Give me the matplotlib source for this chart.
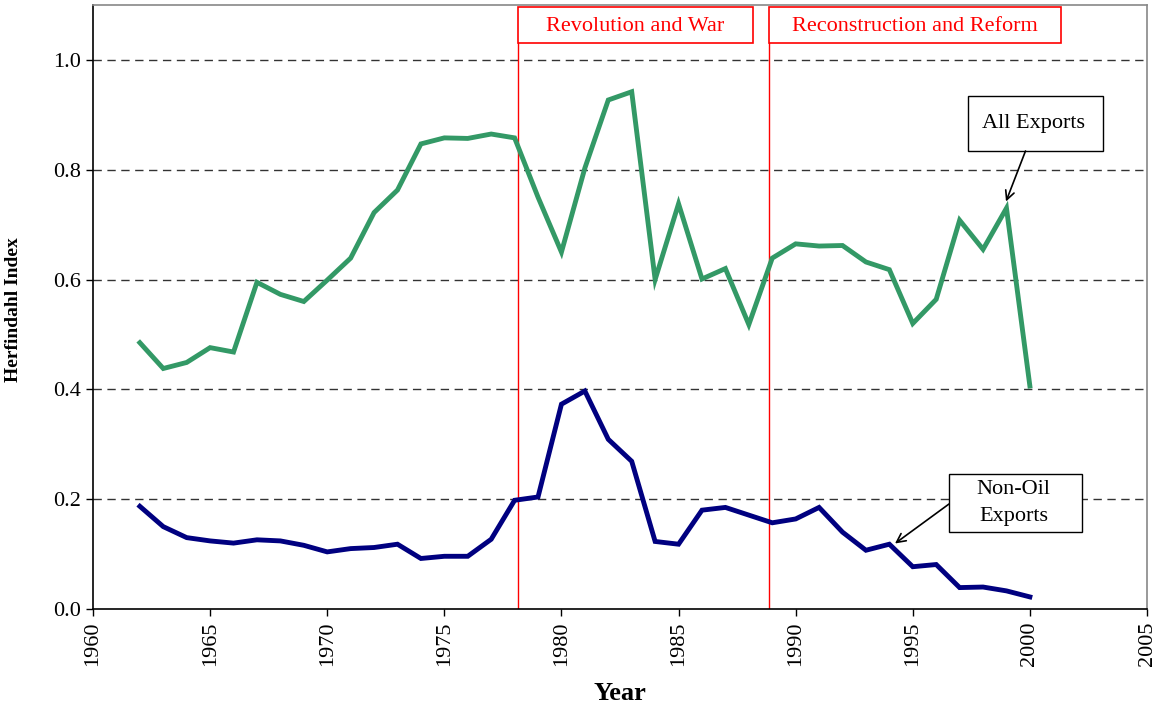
import matplotlib
matplotlib.use("Agg")
import matplotlib.pyplot as plt
from matplotlib.patches import Rectangle

years = list(range(1962, 2001))
all_exports = [0.485, 0.438, 0.449, 0.476, 0.468, 0.595, 0.573, 0.560, 0.599, 0.639,
               0.722, 0.763, 0.847, 0.858, 0.857, 0.865, 0.858, 0.750, 0.650, 0.803,
               0.927, 0.942, 0.600, 0.738, 0.601, 0.620, 0.518, 0.639, 0.665, 0.661,
               0.662, 0.632, 0.618, 0.520, 0.564, 0.708, 0.655, 0.730, 0.406]
non_oil = [0.187, 0.150, 0.130, 0.124, 0.120, 0.126, 0.124, 0.116, 0.104, 0.110,
           0.112, 0.118, 0.092, 0.096, 0.096, 0.127, 0.198, 0.204, 0.373, 0.397,
           0.309, 0.269, 0.123, 0.118, 0.180, 0.185, 0.171, 0.157, 0.164, 0.185,
           0.140, 0.107, 0.118, 0.077, 0.081, 0.039, 0.040, 0.033, 0.022]
period_starts = [1978.13, 1988.88]
period_labels = ["Revolution and War", "Reconstruction and Reform"]
series_labels = ["All Exports", "Non-Oil\nExports"]
x_ticks = list(range(1960, 2006, 5))
y_ticks = [0.0, 0.2, 0.4, 0.6, 0.8, 1.0]

plt.rcParams['font.family'] = ['Liberation Serif', 'DejaVu Serif']

W, H = 1156, 707
fig = plt.figure(figsize=(W / 100, H / 100), dpi=100)
ax_l, ax_r, ax_t, ax_b = 93, 1147, 5, 609
ax = fig.add_axes([ax_l / W, (H - ax_b) / H, (ax_r - ax_l) / W, (ax_b - ax_t) / H])

def fx(px):
    return (px - ax_l) / (ax_r - ax_l)

def fy(py):
    return (ax_b - py) / (ax_b - ax_t)

ax.set_xlim(1960, 2005)
ax.set_ylim(0, 1.1)

for v in y_ticks[1:]:
    ax.axhline(v, color='#333333', lw=1.0, dashes=(6, 4), zorder=1)

ax.plot(years, all_exports, color='#339966', lw=3.5, solid_joinstyle='miter', zorder=3)
ax.plot(years, non_oil, color='#000080', lw=3.5, solid_joinstyle='miter', zorder=3)

# period markers
box_top, box_bot = 7.3, 43.3
box_px = [(518, 752.5), (769, 1060.5)]
for xs, lab, (bl, br) in zip(period_starts, period_labels, box_px):
    ax.axvline(xs, ymin=0, ymax=fy(box_bot), color='red', lw=1.0, zorder=2)
    ax.add_patch(Rectangle((fx(bl), fy(box_bot)), fx(br) - fx(bl), fy(box_top) - fy(box_bot),
                           transform=ax.transAxes, facecolor='white', edgecolor='red',
                           lw=1.2, clip_on=False, zorder=4))
    ax.text((fx(bl) + fx(br)) / 2, (fy(box_bot) + fy(box_top)) / 2 - 0.002, lab,
            transform=ax.transAxes, ha='center', va='center', color='red',
            fontsize=16, zorder=5)

# series callouts
callouts = [((968, 96, 1103, 151), (1025.5, 151), (1006, 201.5)),
            ((949, 473.5, 1082, 532), (949, 504), (895, 543.5))]
for lab, ((l, t, r, b), (sx, sy), (ex, ey)) in zip(series_labels, callouts):
    ax.add_patch(Rectangle((fx(l), fy(b)), fx(r) - fx(l), fy(t) - fy(b),
                           transform=ax.transAxes, facecolor='white', edgecolor='black',
                           lw=1.0, clip_on=False, zorder=4))
    ax.text((fx(l) + fx(r)) / 2 - 0.002, (fy(t) + fy(b)) / 2, lab, transform=ax.transAxes,
            ha='center', va='center', fontsize=16, linespacing=1.6, zorder=5)
    ax.annotate('', xy=(fx(ex), fy(ey)), xycoords='axes fraction',
                xytext=(fx(sx), fy(sy)), textcoords='axes fraction',
                arrowprops=dict(arrowstyle='->', color='black', lw=1.2,
                                mutation_scale=16, shrinkA=0, shrinkB=0),
                zorder=5)

ax.set_xticks(x_ticks)
ax.set_xticklabels([str(t) for t in x_ticks], rotation=90, fontsize=16)
ax.set_yticks(y_ticks)
ax.set_yticklabels([f"{t:.1f}" for t in y_ticks], fontsize=16)
ax.tick_params(axis='both', direction='out', length=5, width=1, color='black', pad=4)

for side in ['left', 'bottom']:
    ax.spines[side].set_color('black')
    ax.spines[side].set_linewidth(1.2)
for side in ['top', 'right']:
    ax.spines[side].set_color('#888888')
    ax.spines[side].set_linewidth(1.2)

fig.text(14 / W, 1 - 310 / H, "Herfindahl Index", rotation=90, ha='center', va='center',
         fontsize=14, fontweight='bold')
fig.text(620 / W, 1 - 693 / H, "Year", ha='center', va='center',
         fontsize=19, fontweight='bold')

fig.savefig("out.png", dpi=100, facecolor='white')
